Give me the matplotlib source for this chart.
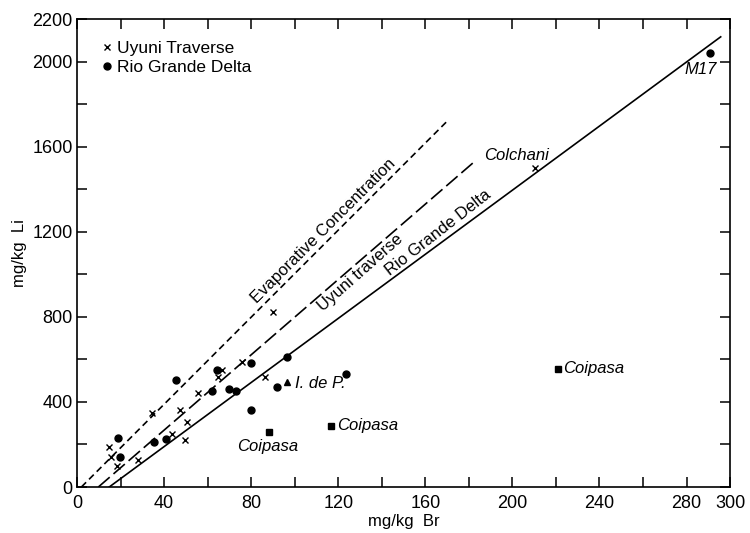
import matplotlib
matplotlib.use("Agg")
import matplotlib.pyplot as plt

plt.rcParams['font.family'] = ['Liberation Sans', 'DejaVu Sans']
plt.rcParams['font.size'] = 12

# Uyuni Traverse (crosses)
uyuni_br = [14.5, 15.4, 18.3, 27.8, 34.5, 47.5, 50.5, 49.8, 43.6, 55.6, 64.8, 66.6, 75.8, 86.5, 90.1, 210.3]
uyuni_li = [190, 140, 100, 128, 350, 362, 308, 222, 250, 442, 518, 548, 588, 515, 822, 1500]

# Rio Grande Delta (dots)
rgd_br = [18.7, 19.6, 35.2, 40.9, 45.6, 62.0, 64.3, 69.7, 73.2, 79.8, 80.1, 92.0, 96.6, 123.5, 291.0]
rgd_li = [232, 140, 212, 226, 505, 450, 550, 460, 450, 585, 360, 468, 612, 530, 2040]

# Coipasa (squares) and I. de P. (triangle)
coipasa_br = [88.3, 116.9, 221.0]
coipasa_li = [258, 287, 555]
idp_br = [96.6]
idp_li = [495]

# fitted lines (Br endpoints, Li endpoints)
evap_br = [2, 170]
evap_li = [0, 1720]
uyuni_line_br = [9.8, 182]
uyuni_line_li = [0, 1525]
rgd_line_br = [14.8, 295.7]
rgd_line_li = [0, 2117]

x_ticks = list(range(0, 301, 20))
x_labels = ['0', '', '40', '', '80', '', '120', '', '160', '', '200', '', '240', '', '280', '300']
y_ticks = list(range(0, 2201, 200))
y_labels = ['0', '', '400', '', '800', '', '1200', '', '1600', '', '2000', '2200']

fig = plt.figure(figsize=(7.5, 5.33), dpi=100)
ax = fig.add_axes([0.1027, 0.0863, 0.8707, 0.8777])

ax.plot(evap_br, evap_li, color='black', lw=1.2, dashes=(4, 2.5))
ax.plot(uyuni_line_br, uyuni_line_li, color='black', lw=1.2, dashes=(9, 3))
ax.plot(rgd_line_br, rgd_line_li, color='black', lw=1.2)

ax.plot(uyuni_br, uyuni_li, 'x', color='black', ms=4, mew=1.0, label='Uyuni Traverse')
ax.plot(rgd_br, rgd_li, 'o', color='black', ms=5, label='Rio Grande Delta')
ax.plot(coipasa_br, coipasa_li, 's', color='black', ms=4.5)
ax.plot(idp_br, idp_li, '^', color='black', ms=5)

# line labels
ax.text(113, 1205, 'Evaporative Concentration', rotation=45, ha='center', va='center', rotation_mode='anchor')
ax.text(130, 1010, 'Uyuni traverse', rotation=41.5, ha='center', va='center', rotation_mode='anchor')
ax.text(166, 1195, 'Rio Grande Delta', rotation=38, ha='center', va='center', rotation_mode='anchor')

# point labels
ax.text(187, 1560, 'Colchani', style='italic', ha='left', va='center')
ax.text(279, 1965, 'M17', style='italic', ha='left', va='center')
ax.text(87.7, 190, 'Coipasa', style='italic', ha='center', va='center')
ax.text(119.5, 287, 'Coipasa', style='italic', ha='left', va='center')
ax.text(223.5, 555, 'Coipasa', style='italic', ha='left', va='center')
ax.text(100, 485, 'I. de P.', style='italic', ha='left', va='center')

ax.set_xlim(0, 300)
ax.set_ylim(0, 2200)
ax.set_xticks(x_ticks)
ax.set_xticklabels(x_labels)
ax.set_yticks(y_ticks)
ax.set_yticklabels(y_labels)
ax.tick_params(direction='in', length=7, width=1.1, top=True, right=True, labelsize=13)
ax.tick_params(axis='x', pad=6)
ax.tick_params(axis='y', pad=3)
for s in ax.spines.values():
    s.set_linewidth(1.2)

ax.set_xlabel('mg/kg  Br', labelpad=1)
ax.set_ylabel('mg/kg  Li', labelpad=4)

ax.legend(loc='upper left', bbox_to_anchor=(0.022, 0.975), frameon=False, fontsize=12.5,
          handlelength=0.6, handletextpad=0.3, labelspacing=0.2, borderaxespad=0.2)

fig.savefig('out.png', dpi=100)
